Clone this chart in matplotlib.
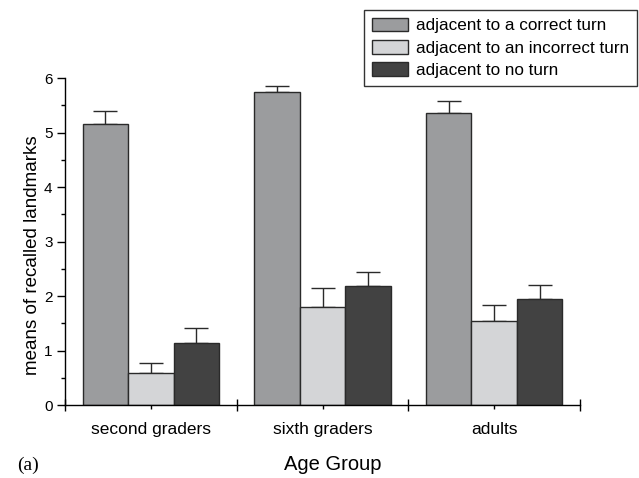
import matplotlib
matplotlib.use("Agg")
import matplotlib.pyplot as plt
import numpy as np

plt.rcParams['font.family'] = ['Liberation Sans', 'DejaVu Sans']

groups = ["second graders", "sixth graders", "adults"]
series = ["adjacent to a correct turn", "adjacent to an incorrect turn", "adjacent to no turn"]
correct = [5.15, 5.75, 5.35]
incorrect = [0.58, 1.79, 1.54]
noturn = [1.13, 2.19, 1.94]
err_correct = [0.24, 0.10, 0.22]
err_incorrect = [0.19, 0.36, 0.30]
err_noturn = [0.29, 0.26, 0.27]

colors = ["#9b9c9e", "#d4d5d7", "#424242"]
values = [correct, incorrect, noturn]
errs = [err_correct, err_incorrect, err_noturn]

fig = plt.figure(figsize=(6.39, 4.78), dpi=100)
ax = fig.add_axes([0.1017, 0.1527, 0.806, 0.684])

x = np.arange(len(groups))
w = 0.265
for i in range(3):
    ax.bar(x + (i - 1) * w, values[i], width=w, color=colors[i], edgecolor="#2a2a2a",
           linewidth=1.0, label=series[i], zorder=2,
           yerr=[np.zeros(3), errs[i]], error_kw=dict(ecolor="#2a2a2a", elinewidth=1.0,
                                                     capsize=8.5, capthick=1.0, zorder=1))

ax.set_xlim(-0.5, 2.5)
ax.set_ylim(0, 6)
for s in ["top", "right"]:
    ax.spines[s].set_visible(False)
ax.spines["left"].set_linewidth(1.0)
ax.spines["bottom"].set_linewidth(1.0)

ax.set_yticks(np.arange(0, 7, 1))
ax.set_yticks(np.arange(0.5, 6, 1), minor=True)
ax.tick_params(axis="y", which="major", direction="out", length=6, width=1, labelsize=11, pad=3)
ax.tick_params(axis="y", which="minor", direction="out", length=3, width=1)

ax.set_xticks([-0.5, 0.5, 1.5, 2.5])
ax.set_xticklabels([])
ax.set_xticks(x, minor=True)
ax.set_xticklabels(groups, minor=True)
ax.tick_params(axis="x", which="major", direction="inout", length=8, width=1)
ax.tick_params(axis="x", which="minor", direction="out", length=3, width=1, labelsize=12.5, pad=9)

fig.text(0.051, 0.4665, "means of recalled landmarks", fontsize=13.5, rotation=90,
         ha="center", va="center")
fig.text(0.521, 0.016, "Age Group", fontsize=14.5, ha="center", va="baseline")
fig.text(0.027, 0.016, "(a)", fontsize=14, ha="left", va="baseline",
         family=["Liberation Serif", "DejaVu Serif"])

leg = fig.legend(loc="upper right", bbox_to_anchor=(0.997, 0.979), bbox_transform=fig.transFigure,
                 fontsize=12.3, frameon=True, fancybox=False, edgecolor="black",
                 handlelength=2.1, handleheight=0.85, handletextpad=0.5, labelspacing=0.38,
                 borderpad=0.45, borderaxespad=0)
leg.get_frame().set_linewidth(1.0)

fig.savefig("out.png", dpi=100)
